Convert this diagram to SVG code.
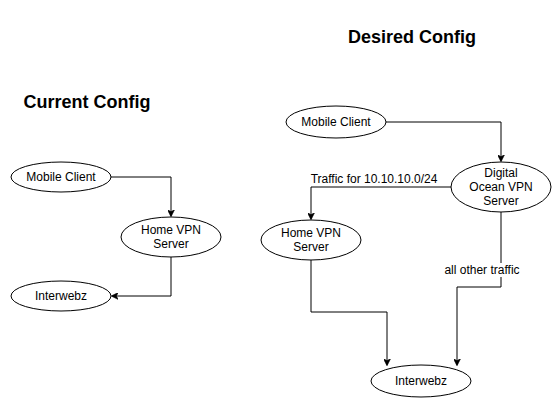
<svg xmlns="http://www.w3.org/2000/svg" width="558" height="403" viewBox="0 0 558 403">
<style>
.n{fill:#fff;stroke:#000;stroke-width:1}
.t{font-family:"Liberation Sans",Arial,sans-serif;font-size:12px;fill:#000;text-anchor:middle}
.h{font-family:"Liberation Sans",Arial,sans-serif;font-size:18px;font-weight:bold;fill:#000;text-anchor:middle}
.l{font-family:"Liberation Sans",Arial,sans-serif;font-size:12px;fill:#000;text-anchor:middle}
.e{fill:none;stroke:#000;stroke-width:1;marker-end:url(#a)}
</style>
<defs>
<marker id="a" viewBox="0 0 10 10" refX="9" refY="5" markerWidth="7" markerHeight="7" orient="auto" markerUnits="userSpaceOnUse">
<path d="M0,0 L10,5 L0,10 L3,5 Z" fill="#000" stroke="#000"/>
</marker>
</defs>
<rect width="558" height="403" fill="#fff"/>
<text class="h" x="87" y="108">Current Config</text>
<text class="h" x="412" y="43">Desired Config</text>
<g id="edges">
<path class="e" d="M111,177 H171 V216"/>
<path class="e" d="M171,257 V296 H112"/>
<path class="e" d="M386,122 H501 V161"/>
<path class="e" d="M451,187 H311 V219"/>
<path class="e" d="M311,260 V312 H387 V365"/>
<path class="e" d="M501,212 V287 H457 V365"/>
<rect x="444" y="263" width="76" height="14" fill="#fff"/>
<text class="l" x="482" y="274">all other traffic</text>
<text class="l" x="374" y="183">Traffic for 10.10.10.0/24</text>
</g>
<g id="l-mobile"><ellipse class="n" cx="61" cy="177" rx="50" ry="15"/><text class="t" x="61" y="181">Mobile Client</text></g>
<g id="l-home"><ellipse class="n" cx="171" cy="237" rx="50" ry="20"/><text class="t" x="171" y="234">Home VPN</text><text class="t" x="171" y="248">Server</text></g>
<g id="l-inet"><ellipse class="n" cx="61" cy="296" rx="50" ry="15"/><text class="t" x="61" y="300">Interwebz</text></g>
<g id="r-mobile"><ellipse class="n" cx="336" cy="122" rx="50" ry="16"/><text class="t" x="336" y="126">Mobile Client</text></g>
<g id="r-do"><ellipse class="n" cx="501" cy="187" rx="50" ry="25"/><text class="t" x="501" y="177">Digital</text><text class="t" x="501" y="191">Ocean VPN</text><text class="t" x="501" y="205">Server</text></g>
<g id="r-home"><ellipse class="n" cx="311" cy="240" rx="50" ry="20"/><text class="t" x="311" y="237">Home VPN</text><text class="t" x="311" y="251">Server</text></g>
<g id="r-inet"><ellipse class="n" cx="421" cy="381" rx="50" ry="16"/><text class="t" x="421" y="385">Interwebz</text></g>
</svg>
